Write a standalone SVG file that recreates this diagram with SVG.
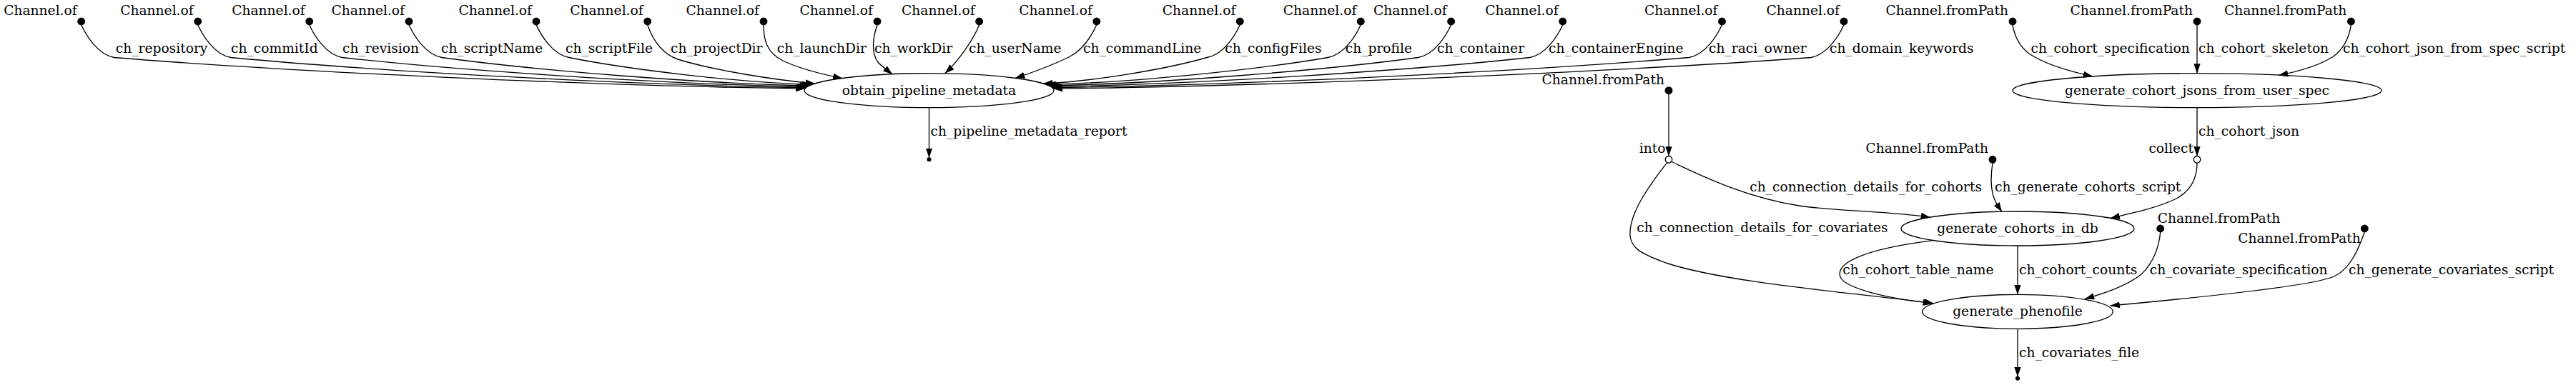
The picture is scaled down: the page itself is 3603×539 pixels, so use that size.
<svg xmlns="http://www.w3.org/2000/svg" width="3603" height="539" viewBox="0 0 3603 539">
<defs>
<marker id="ah" viewBox="0 0 10 7" refX="10" refY="3.5" markerWidth="13.33" markerHeight="9.33" markerUnits="userSpaceOnUse" orient="auto"><path d="M0,0 L10,3.5 L0,7 z" fill="#000"/></marker>
<style>
text{font-family:"DejaVu Serif","Liberation Serif",serif;font-size:18.67px;fill:#000}
.p{fill:#000;stroke:#000;stroke-width:1.33}
.o{fill:#fff;stroke:#000;stroke-width:1.33}
.n ellipse{fill:none;stroke:#000;stroke-width:1.33}
.mid{text-anchor:middle}
.end{text-anchor:end}
#connectors path{fill:none;stroke:#000;stroke-width:1.33;marker-end:url(#ah)}
</style>
</defs>
<rect width="3603" height="539" fill="#fff"/>

<g id="connectors">
<g><path d="M113.7,34.8 C119.7,48 135.7,76 159.7,80.5 C401.3,100.1 836.1,120.6 1126,124.1"/><text x="161.7" y="74">ch_repository</text></g>
<g><path d="M276.7,34.8 C282.7,48 298.7,76 322.7,80.5 C523.9,99.5 886.1,119.3 1127.5,122.7"/><text x="323" y="74">ch_commitId</text></g>
<g><path d="M432.7,34.8 C438.7,48 454.7,76 478.7,80.5 C641.4,98.9 934.3,118 1129.5,121.3"/><text x="479" y="74">ch_revision</text></g>
<g><path d="M572,34.8 C578,48 594,76 618,80.5 C746.5,98.3 977.8,116.8 1132,120"/><text x="617" y="74">ch_scriptName</text></g>
<g><path d="M750,34.8 C756,48 772,76 796,80.5 C880.9,97.6 1033.6,115.5 1135.5,118.5"/><text x="791" y="74">ch_scriptFile</text></g>
<g><path d="M905.7,34.8 C911,50 922,74 948,83 C996,98 1083,112 1140,117"/><text x="938" y="74">ch_projectDir</text></g>
<g><path d="M1068,34.8 C1068,55 1072,74 1095,85 C1120,97 1150,104 1178.3,109.7"/><text x="1086.7" y="74">ch_launchDir</text></g>
<g><path d="M1227,34.8 C1221,52 1218,74 1228,87 C1231,91 1238,96 1248.3,104"/><text x="1223" y="74">ch_workDir</text></g>
<g><path d="M1369.6,34.8 C1362,55 1340,86 1321.7,102.7"/><text x="1355" y="74">ch_userName</text></g>
<g><path d="M1533.8,34.8 C1526,52 1515,70 1495,80 C1470,92 1446,101 1420,109.3"/><text x="1515" y="74">ch_commandLine</text></g>
<g><path d="M1734.3,34.8 C1728.3,48 1712.3,76 1688.3,80.5 C1631,96.9 1527.8,114.1 1459,117"/><text x="1713.3" y="74">ch_configFiles</text></g>
<g><path d="M1903.3,34.8 C1897.3,48 1881.3,76 1857.3,80.5 C1758.8,97.6 1581.6,115.5 1463.5,118.5"/><text x="1881.7" y="74">ch_profile</text></g>
<g><path d="M2029.6,34.8 C2023.6,48 2007.6,76 1983.6,80.5 C1854.4,98.3 1622,116.8 1467,120"/><text x="2010" y="74">ch_container</text></g>
<g><path d="M2185.7,34.8 C2179.7,48 2163.7,76 2139.7,80.5 C1972.1,98.9 1670.6,118 1469.5,121.3"/><text x="2166" y="74">ch_containerEngine</text></g>
<g><path d="M2408.5,34.8 C2402.5,48 2386.5,76 2362.5,80.5 C2139.7,99.5 1738.8,119.3 1471.5,122.7"/><text x="2390" y="74">ch_raci_owner</text></g>
<g><path d="M2579,34.8 C2573,48 2557,76 2533,80.5 C2268,100.1 1791,120.6 1473,124.1"/><text x="2559" y="74">ch_domain_keywords</text></g>
<g><path d="M1299.5,150.7 L1299.5,220.9"/><text x="1301.5" y="190">ch_pipeline_metadata_report</text></g>

<g><path d="M2815,34.8 C2818,52 2826,66 2838,75 C2860,90 2895,100 2927,107"/><text x="2840.6" y="74">ch_cohort_specification</text></g>
<g><path d="M3073,34.8 L3073,102.7"/><text x="3075" y="74">ch_cohort_skeleton</text></g>
<g><path d="M3288.4,34.8 C3286,50 3280,68 3262,80 C3243,92 3215,100 3187,105.5"/><text x="3277" y="74">ch_cohort_json_from_spec_script</text></g>
<g><path d="M3073,150.7 L3073,218.5"/><text x="3075" y="190">ch_cohort_json</text></g>
<g><path d="M2334,131.5 L2334,218.5"/></g>
<g><path d="M2338,226.5 C2380,246 2440,276 2516,288 C2561.6,295.2 2650,296 2700,304.4"/><text x="2447.3" y="267.5">ch_connection_details_for_cohorts</text></g>
<g><path d="M2331.5,227.8 C2305,262 2278,300 2280,330 C2282,348 2295,355 2330,368 C2420,398 2620,412 2705,425"/><text x="2289.3" y="325">ch_connection_details_for_covariates</text></g>
<g><path d="M2787,228.1 C2784,248 2784,268 2791,282 C2794,288 2797,292 2800,296.6"/><text x="2790" y="267.5">ch_generate_cohorts_script</text></g>
<g><path d="M3073,228.1 C3073,245 3068,265 3044,278 C3020,290 2985,298 2951.7,305.5"/></g>
<g><path d="M2822,344 L2822,412.3"/><text x="2824" y="383.5">ch_cohort_counts</text></g>
<g><path d="M2703.3,336.7 C2615,348 2566,366 2574,388 C2582,404 2640,418 2703,424.5"/><text x="2577.3" y="383.5">ch_cohort_table_name</text></g>
<g><path d="M3021.7,324.8 C3020,345 3012,368 2995,384 C2975,400 2945,410 2916,418.5"/><text x="3006.7" y="383.5">ch_covariate_specification</text></g>
<g><path d="M3307.3,324.8 C3300,345 3288,378 3262,388 C3226,402 3060,418 2951.5,428"/><text x="3285" y="383.5">ch_generate_covariates_script</text></g>
<g><path d="M2822,460.3 L2822,527.4"/><text x="2824" y="499.5">ch_covariates_file</text></g>
</g>

<g id="src1"><circle class="p" cx="113.7" cy="30" r="4.8"/><text class="end" x="107.7" y="20.5">Channel.of</text></g>
<g id="src2"><circle class="p" cx="276.7" cy="30" r="4.8"/><text class="end" x="270.7" y="20.5">Channel.of</text></g>
<g id="src3"><circle class="p" cx="432.7" cy="30" r="4.8"/><text class="end" x="426.7" y="20.5">Channel.of</text></g>
<g id="src4"><circle class="p" cx="572" cy="30" r="4.8"/><text class="end" x="566" y="20.5">Channel.of</text></g>
<g id="src5"><circle class="p" cx="750" cy="30" r="4.8"/><text class="end" x="744" y="20.5">Channel.of</text></g>
<g id="src6"><circle class="p" cx="905.7" cy="30" r="4.8"/><text class="end" x="899.7" y="20.5">Channel.of</text></g>
<g id="src7"><circle class="p" cx="1068" cy="30" r="4.8"/><text class="end" x="1062" y="20.5">Channel.of</text></g>
<g id="src8"><circle class="p" cx="1227" cy="30" r="4.8"/><text class="end" x="1221" y="20.5">Channel.of</text></g>
<g id="src9"><circle class="p" cx="1369.6" cy="30" r="4.8"/><text class="end" x="1363.6" y="20.5">Channel.of</text></g>
<g id="src10"><circle class="p" cx="1533.8" cy="30" r="4.8"/><text class="end" x="1527.8" y="20.5">Channel.of</text></g>
<g id="src11"><circle class="p" cx="1734.3" cy="30" r="4.8"/><text class="end" x="1728.3" y="20.5">Channel.of</text></g>
<g id="src12"><circle class="p" cx="1903.3" cy="30" r="4.8"/><text class="end" x="1897.3" y="20.5">Channel.of</text></g>
<g id="src13"><circle class="p" cx="2029.6" cy="30" r="4.8"/><text class="end" x="2023.6" y="20.5">Channel.of</text></g>
<g id="src14"><circle class="p" cx="2185.7" cy="30" r="4.8"/><text class="end" x="2179.7" y="20.5">Channel.of</text></g>
<g id="src15"><circle class="p" cx="2408.5" cy="30" r="4.8"/><text class="end" x="2402.5" y="20.5">Channel.of</text></g>
<g id="src16"><circle class="p" cx="2579" cy="30" r="4.8"/><text class="end" x="2573" y="20.5">Channel.of</text></g>

<g id="fp1"><circle class="p" cx="2815" cy="30" r="4.8"/><text class="end" x="2809" y="20.5">Channel.fromPath</text></g>
<g id="fp2"><circle class="p" cx="3073" cy="30" r="4.8"/><text class="end" x="3067" y="20.5">Channel.fromPath</text></g>
<g id="fp3"><circle class="p" cx="3288.4" cy="30" r="4.8"/><text class="end" x="3282.4" y="20.5">Channel.fromPath</text></g>
<g id="fp4"><circle class="p" cx="2334" cy="126.7" r="4.8"/><text class="end" x="2328" y="117.5">Channel.fromPath</text></g>
<g id="fp5"><circle class="p" cx="2787" cy="223.3" r="4.8"/><text class="end" x="2781" y="214">Channel.fromPath</text></g>
<g id="fp6"><circle class="p" cx="3021.7" cy="320" r="4.8"/><text x="3017.7" y="311.5">Channel.fromPath</text></g>
<g id="fp7"><circle class="p" cx="3307.3" cy="320" r="4.8"/><text class="end" x="3301.7" y="339.5">Channel.fromPath</text></g>

<g id="obtain_pipeline_metadata" class="n"><ellipse cx="1299.5" cy="126.7" rx="174.5" ry="24"/><text class="mid" x="1299.5" y="132.7">obtain_pipeline_metadata</text></g>
<g id="end1"><circle class="p" cx="1299.5" cy="223.3" r="2.4"/></g>
<g id="generate_cohort_jsons_from_user_spec" class="n"><ellipse cx="3073" cy="126.7" rx="258" ry="24"/><text class="mid" x="3073" y="132.7">generate_cohort_jsons_from_user_spec</text></g>
<g id="into"><circle class="o" cx="2334" cy="223.3" r="4.8"/><text class="end" x="2329.5" y="214">into</text></g>
<g id="collect"><circle class="o" cx="3073" cy="223.3" r="4.8"/><text class="end" x="3068" y="214">collect</text></g>
<g id="generate_cohorts_in_db" class="n"><ellipse cx="2822" cy="320" rx="163" ry="24"/><text class="mid" x="2822" y="326">generate_cohorts_in_db</text></g>
<g id="generate_phenofile" class="n"><ellipse cx="2822" cy="436.3" rx="133.3" ry="24"/><text class="mid" x="2822" y="442.3">generate_phenofile</text></g>
<g id="end2"><circle class="p" cx="2822" cy="529.8" r="2.4"/></g>
</svg>
